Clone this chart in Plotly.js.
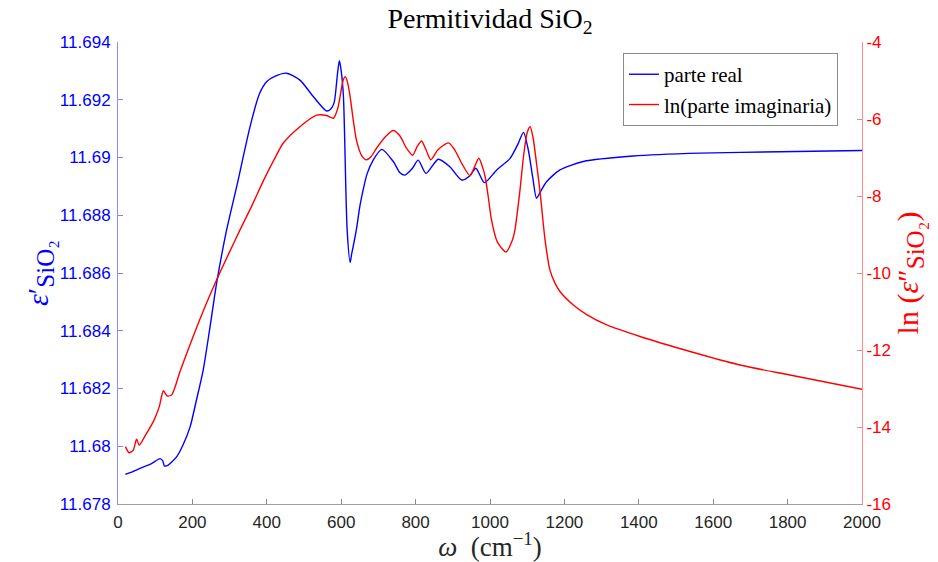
<!DOCTYPE html>
<html>
<head>
<meta charset="utf-8">
<script src="https://cdn.plot.ly/plotly-3.0.1.min.js"></script>
<style>
  html, body { margin: 0; padding: 0; background: #fff; }
  #chart { width: 938px; height: 562px; }
</style>
</head>
<body>
<div id="chart"></div>
<script>
// Wavenumber (cm^-1) and real permittivity of SiO2
const omegaReal = [20, 40, 64, 90, 113, 120, 125, 135, 158, 175, 194, 210, 229, 247, 265, 292, 319, 355, 380, 400,
  420, 453, 489, 525, 561, 572, 581, 590, 595, 600, 606, 616, 624, 628, 635, 642, 650, 659, 670, 686, 709, 740, 758,
  771, 790, 807, 828, 861, 892, 924, 946, 962, 985, 1018, 1054, 1076, 1090, 1103, 1115, 1125, 1135, 1152, 1188,
  1251, 1385, 1565, 1780, 2000];
const epsReal = [11.67903, 11.67912, 11.67926, 11.67940, 11.67957, 11.67950, 11.67932, 11.67935, 11.67964, 11.68005,
  11.68068, 11.68155, 11.68264, 11.68410, 11.68564, 11.68749, 11.68899, 11.69107, 11.69220, 11.69263,
  11.69280, 11.69292, 11.69268, 11.69211, 11.69161, 11.69168, 11.69190, 11.69290, 11.69335, 11.69300,
  11.69211, 11.68749, 11.68637, 11.68665, 11.68710, 11.68760, 11.68830, 11.68888, 11.68945, 11.68991, 11.69028,
  11.68986, 11.68947,
  11.68939, 11.68960, 11.68991, 11.68945, 11.68994, 11.68968, 11.68922, 11.68937, 11.68963, 11.68913,
  11.68957, 11.68997, 11.69049, 11.69087, 11.69026, 11.68930, 11.68859, 11.68880, 11.68916, 11.68957,
  11.68986, 11.69005, 11.69015, 11.69020, 11.69024];

// Wavenumber (cm^-1) and ln of the imaginary permittivity
const omegaImag = [20, 30, 41, 50, 57, 77, 95, 111, 122, 132, 144, 167, 202, 235, 265, 300, 328, 360, 391, 420,
  444, 489, 534, 561, 579, 590, 597, 605, 611, 617, 624, 632, 641, 655, 668, 680, 695, 720, 740, 758,
  775, 792, 805, 816, 828, 841, 860, 888, 905, 924, 946, 958, 970, 980, 987, 995, 1004, 1020, 1043, 1060,
  1067, 1080, 1090, 1100, 1108, 1116, 1125, 1134, 1148, 1161, 1175, 1188, 1224, 1260, 1314, 1403, 1538, 1672, 1806, 2000];
const lnEpsImag = [-14.51, -14.67, -14.60, -14.32, -14.47, -14.16, -13.86, -13.47, -13.06, -13.19, -13.17, -12.55,
  -11.65, -10.85, -10.18, -9.45, -8.88, -8.25, -7.60, -7.05, -6.63, -6.20, -5.90, -5.91, -5.98, -5.75, -5.42,
  -5.00, -4.90, -5.05, -5.42, -6.00, -6.55, -6.95, -7.06, -6.98, -6.76, -6.45, -6.30, -6.44, -6.75, -6.94,
  -6.70, -6.57, -6.80, -7.06, -6.80, -6.62, -6.80, -7.15, -7.47, -7.25, -7.02, -7.25, -7.50, -8.00, -8.62,
  -9.20, -9.45, -9.15, -8.88, -7.90, -6.98, -6.35, -6.20, -6.50, -7.15, -7.84, -9.14, -9.92, -10.27, -10.48,
  -10.83, -11.08, -11.35, -11.65, -12.04, -12.39, -12.65, -13.02];

// Axis ticks
const xTicks = [0, 200, 400, 600, 800, 1000, 1200, 1400, 1600, 1800, 2000];
const leftTicks = [11.678, 11.68, 11.682, 11.684, 11.686, 11.688, 11.69, 11.692, 11.694];
const leftTickText = ['11.678', '11.68', '11.682', '11.684', '11.686', '11.688', '11.69', '11.692', '11.694'];
const rightTicks = [-16, -14, -12, -10, -8, -6, -4];

const serif = 'Liberation Serif, Times New Roman, serif';
const sans = 'Liberation Sans, Arial, Helvetica, sans-serif';

const traces = [
  {
    x: omegaReal, y: epsReal, type: 'scatter', mode: 'lines', name: 'parte real',
    line: { color: '#0000ff', width: 1.4, shape: 'spline', smoothing: 0.7 }, yaxis: 'y'
  },
  {
    x: omegaImag, y: lnEpsImag, type: 'scatter', mode: 'lines', name: 'ln(parte imaginaria)',
    line: { color: '#ff0000', width: 1.4, shape: 'spline', smoothing: 0.7 }, yaxis: 'y2'
  }
];

const layout = {
  width: 938, height: 562,
  margin: { l: 118, r: 76, t: 42, b: 58 },
  paper_bgcolor: '#ffffff', plot_bgcolor: '#ffffff',
  showlegend: true,
  title: {
    text: 'Permitividad SiO<sub>2</sub>',
    font: { family: serif, size: 28, color: '#000000' },
    x: 0.5, xref: 'paper', xanchor: 'center', y: 0.968, yref: 'container', yanchor: 'middle'
  },
  xaxis: {
    range: [0, 2000], tickvals: xTicks, ticktext: xTicks.map(String),
    ticks: 'inside', ticklen: 5, tickcolor: '#8a8a8a', tickwidth: 1,
    showline: true, linecolor: '#a0a0a0', linewidth: 1, mirror: false,
    showgrid: false, zeroline: false, ticklabelstandoff: 3,
    tickfont: { family: sans, size: 17, color: '#262626' },
    title: { text: '<i>ω</i>  (cm<sup>−1</sup>)', font: { family: serif, size: 27, color: '#262626' }, standoff: 0 }
  },
  yaxis: {
    range: [11.678, 11.694], tickvals: leftTicks, ticktext: leftTickText,
    ticks: 'inside', ticklen: 5, tickcolor: '#8080ff', tickwidth: 1,
    showline: true, linecolor: '#8c8cff', linewidth: 1,
    showgrid: false, zeroline: false, ticklabelstandoff: 3,
    tickfont: { family: sans, size: 17, color: '#0000ff' },
    title: { text: '<i>ε</i>′<sub><span style="font-size:25px">SiO₂</span></sub>', font: { family: serif, size: 30, color: '#0000ff' }, standoff: 2 }
  },
  yaxis2: {
    range: [-16, -4], tickvals: rightTicks, ticktext: rightTicks.map(String),
    overlaying: 'y', side: 'right',
    ticks: 'inside', ticklen: 5, tickcolor: '#ff8080', tickwidth: 1,
    showline: true, linecolor: '#ff8c8c', linewidth: 1,
    showgrid: false, zeroline: false,
    tickfont: { family: sans, size: 17, color: '#ff0000' },
    title: { text: 'ln (<i>ε</i>″<sub><span style="font-size:25px">SiO₂</span></sub>)', font: { family: serif, size: 30, color: '#ff0000' }, standoff: 4 }
  },
  legend: {
    x: 0.9677, xanchor: 'right', y: 0.976, yanchor: 'top',
    bgcolor: '#ffffff', bordercolor: '#8a8a8a', borderwidth: 1,
    font: { family: serif, size: 21, color: '#000000' },
    tracegroupgap: 0, itemwidth: 30
  }
};

Plotly.newPlot('chart', traces, layout, { displayModeBar: false, staticPlot: true });
</script>
</body>
</html>
